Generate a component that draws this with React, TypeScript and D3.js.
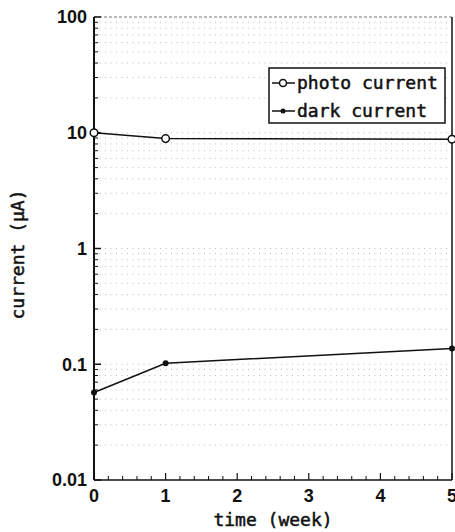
import React from "react";
import * as d3 from "d3";

const weeks = [0, 1, 5];
const photoCurrent = [10, 8.9, 8.8];
const darkCurrent = [0.057, 0.102, 0.137];
const yTicks = [0.01, 0.1, 1, 10, 100];
const yTickLabels = ["0.01", "0.1", "1", "10", "100"];
const xTicks = [0, 1, 2, 3, 4, 5];
const seriesNames = ["photo current", "dark current"];

export default function App() {
  const W = 455, H = 532;
  const x = d3.scaleLinear().domain([0, 5]).range([94, 452]);
  const y = d3.scaleLog().domain([0.01, 100]).range([480, 17]);
  const [x0, x1] = x.range();
  const [yb, yt] = y.range();

  const minorY: number[] = [];
  for (let e = -2; e < 2; e++) {
    for (let m = 2; m <= 9; m++) minorY.push(m * Math.pow(10, e));
  }
  const minorX: number[] = d3.range(0, 5.0001, 0.2).filter((v) => Math.abs(v - Math.round(v)) > 1e-6);

  const line = d3
    .line<[number, number]>()
    .x((d) => x(d[0]))
    .y((d) => y(d[1]));
  const photoPts = weeks.map((w, i) => [w, photoCurrent[i]] as [number, number]);
  const darkPts = weeks.map((w, i) => [w, darkCurrent[i]] as [number, number]);

  const tickFont = "'Liberation Sans', Arial, sans-serif";
  const monoFont = "'DejaVu Sans Mono', monospace";
  const monoStyle = { stroke: "#111", strokeWidth: 0.5 } as const;

  const lg = { x: 269, y: 68, w: 176, h: 55 };

  return (
    <svg width={W} height={H} style={{ position: "absolute", left: 0, top: 0, background: "#fff" }}>
      {/* grid */}
      {[...minorY, ...yTicks.slice(1, 4)].map((v, i) => (
        <line key={"g" + i} x1={x0} x2={x1} y1={y(v)} y2={y(v)} stroke="#aaa" strokeWidth={0.8} strokeDasharray="1,4.5" />
      ))}
      {/* frame */}
      <line x1={x0} x2={x1} y1={yt} y2={yt} stroke="#777" strokeWidth={1} strokeDasharray="3,2" />
      <line x1={x1} x2={x1} y1={yt} y2={yb} stroke="#111" strokeWidth={1.5} />
      <line x1={x0} x2={x0} y1={yt} y2={yb} stroke="#111" strokeWidth={2} />
      <line x1={x0} x2={x1} y1={yb} y2={yb} stroke="#111" strokeWidth={1.5} />
      {/* y ticks */}
      {yTicks.map((v, i) => (
        <g key={"yt" + i}>
          <line x1={x0} x2={x0 + 7} y1={y(v)} y2={y(v)} stroke="#111" strokeWidth={1.5} />
          <text x={87} y={y(v)} dy="0.36em" textAnchor="end" fontFamily={tickFont} fontWeight="bold" fontSize={18} fill="#111">
            {yTickLabels[i]}
          </text>
        </g>
      ))}
      {minorY.map((v, i) => (
        <line key={"ym" + i} x1={x0} x2={x0 + 4} y1={y(v)} y2={y(v)} stroke="#111" strokeWidth={1} />
      ))}
      {/* x ticks */}
      {xTicks.map((v, i) => (
        <g key={"xt" + i}>
          <line x1={x(v)} x2={x(v)} y1={yb} y2={yb - 7} stroke="#111" strokeWidth={1.2} />
          <text x={x(v)} y={496} dy="0.36em" textAnchor="middle" fontFamily={tickFont} fontWeight="bold" fontSize={18} fill="#111">
            {v}
          </text>
        </g>
      ))}
      {minorX.map((v, i) => (
        <line key={"xm" + i} x1={x(v)} x2={x(v)} y1={yb} y2={yb - 4} stroke="#111" strokeWidth={1} />
      ))}
      {/* series */}
      <path d={line(photoPts) || ""} fill="none" stroke="#111" strokeWidth={1.5} />
      <path d={line(darkPts) || ""} fill="none" stroke="#111" strokeWidth={1.5} />
      {photoPts.map((p, i) => (
        <circle key={"pc" + i} cx={x(p[0])} cy={y(p[1])} r={3.8} fill="#fff" stroke="#111" strokeWidth={1.5} />
      ))}
      {darkPts.map((p, i) => (
        <circle key={"dc" + i} cx={x(p[0])} cy={y(p[1])} r={3} fill="#111" />
      ))}
      {/* legend */}
      <rect x={lg.x} y={lg.y} width={lg.w} height={lg.h} fill="#fff" stroke="#111" strokeWidth={1.5} />
      <line x1={lg.x + 3} x2={lg.x + 26} y1={lg.y + 15} y2={lg.y + 15} stroke="#111" strokeWidth={1.5} />
      <circle cx={lg.x + 14} cy={lg.y + 15} r={3.5} fill="#fff" stroke="#111" strokeWidth={1.5} />
      <line x1={lg.x + 3} x2={lg.x + 26} y1={lg.y + 43} y2={lg.y + 43} stroke="#111" strokeWidth={1.5} />
      <circle cx={lg.x + 14} cy={lg.y + 43} r={2.5} fill="#111" />
      <text x={lg.x + 28} y={lg.y + 15} dy="0.35em" fontFamily={monoFont} fontSize={18} fill="#111" {...monoStyle}>
        {seriesNames[0]}
      </text>
      <text x={lg.x + 28} y={lg.y + 43} dy="0.35em" fontFamily={monoFont} fontSize={18} fill="#111" {...monoStyle}>
        {seriesNames[1]}
      </text>
      {/* axis titles */}
      <text x={(x0 + x1) / 2} y={520} dy="0.35em" textAnchor="middle" fontFamily={monoFont} fontSize={18} fill="#111" {...monoStyle}>
        time (week)
      </text>
      <text transform={`translate(18, ${(yt + yb) / 2 + 6}) rotate(-90)`} dy="0.35em" textAnchor="middle" fontFamily={monoFont} fontSize={18} fill="#111" {...monoStyle}>
        current (μA)
      </text>
    </svg>
  );
}
